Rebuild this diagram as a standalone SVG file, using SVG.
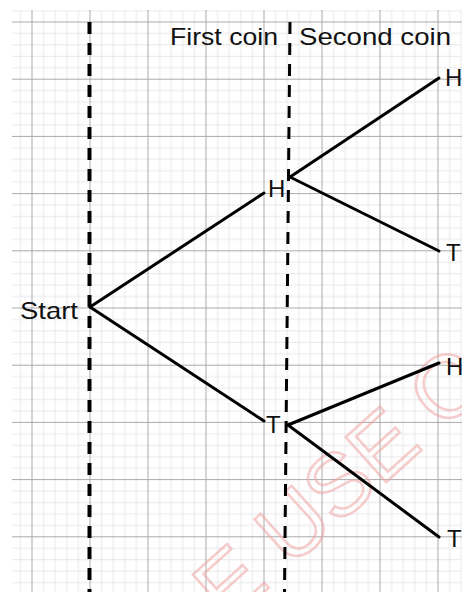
<svg xmlns="http://www.w3.org/2000/svg" width="462" height="592" viewBox="0 0 462 592">
  <style>
    .lbl { font-family: "Liberation Sans", Arial, sans-serif; font-size: 24px; fill: #111; }
    .edge { stroke: #000; stroke-width: 3; stroke-linecap: round; fill: none; }
    .divider { stroke: #000; fill: none; stroke-dasharray: 12 9; }
    .wm { font-family: "Liberation Sans", Arial, sans-serif; font-size: 88px; fill: none; stroke: #f0a4a4; stroke-width: 2.5; opacity: 0.55; }
  </style>
  <defs>
    <pattern id="grid" patternUnits="userSpaceOnUse" x="31.5" y="21.5" width="58" height="57.2">
      <g fill="#e8e8e8">
        <rect x="11.6" y="0" width="1" height="57.2"/>
        <rect x="23.2" y="0" width="1" height="57.2"/>
        <rect x="34.8" y="0" width="1" height="57.2"/>
        <rect x="46.4" y="0" width="1" height="57.2"/>
        <rect x="0" y="11.44" width="58" height="1"/>
        <rect x="0" y="22.88" width="58" height="1"/>
        <rect x="0" y="34.32" width="58" height="1"/>
        <rect x="0" y="45.76" width="58" height="1"/>
      </g>
      <g fill="#aaaaaa">
        <rect x="0" y="0" width="1" height="57.2"/>
        <rect x="0" y="0" width="58" height="1"/>
      </g>
    </pattern>
  </defs>
  <rect width="462" height="592" fill="#ffffff"/>
  <rect id="grid-bg" x="12" y="10" width="450" height="582" fill="url(#grid)"/>

  <g id="watermark" transform="translate(340,482) rotate(-42)">
    <text class="wm" x="0" y="31" text-anchor="middle">E USE O</text>
  </g>

  <g id="dividers">
    <line class="divider" x1="89.5" y1="22" x2="89.5" y2="592" stroke-width="4"/>
    <line class="divider" x1="290" y1="22" x2="284.5" y2="592" stroke-width="3"/>
  </g>

  <g id="connectors">
    <line class="edge" x1="90" y1="307" x2="264" y2="193"/>
    <line class="edge" x1="90" y1="307" x2="264" y2="421"/>
    <line class="edge" x1="290" y1="177" x2="439" y2="78"/>
    <line class="edge" x1="290" y1="177" x2="439" y2="251"/>
    <line class="edge" x1="288" y1="425" x2="439" y2="363"/>
    <line class="edge" x1="288" y1="425" x2="439" y2="537"/>
  </g>

  <g id="header-first"><text class="lbl" x="170" y="45" textLength="108" lengthAdjust="spacingAndGlyphs">First coin</text></g>
  <g id="header-second"><text class="lbl" x="299" y="45" textLength="152" lengthAdjust="spacingAndGlyphs">Second coin</text></g>

  <g id="node-start"><text class="lbl" x="20" y="319" textLength="58" lengthAdjust="spacingAndGlyphs">Start</text></g>
  <g id="node-h1"><text class="lbl" x="268" y="197">H</text></g>
  <g id="node-t1"><text class="lbl" x="266" y="433">T</text></g>
  <g id="node-hh"><text class="lbl" x="445" y="86">H</text></g>
  <g id="node-ht"><text class="lbl" x="446" y="261">T</text></g>
  <g id="node-th"><text class="lbl" x="446" y="375">H</text></g>
  <g id="node-tt"><text class="lbl" x="447" y="547">T</text></g>
</svg>
